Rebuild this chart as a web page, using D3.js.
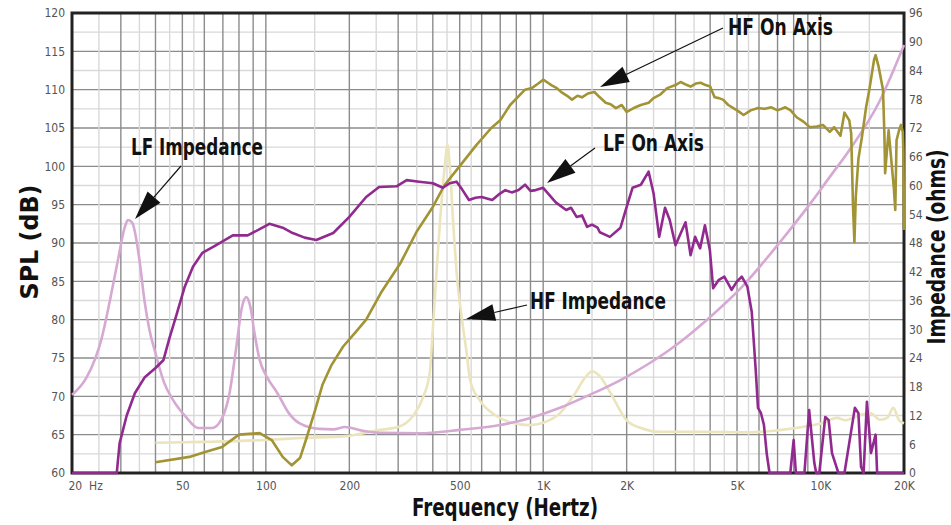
<!DOCTYPE html>
<html><head><meta charset="utf-8">
<script src="https://cdn.jsdelivr.net/npm/d3@7"></script>
<style>
html,body{margin:0;padding:0;background:#fff;}
svg text{font-family:"Liberation Sans Narrow","Arial Narrow","DejaVu Sans Condensed","Roboto Condensed",sans-serif;}
</style></head>
<body><svg id="c" width="951" height="525"></svg>
<script>
// ---- data ----
const splTicks = [60,65,70,75,80,85,90,95,100,105,110,115,120];
const ohmTicks = [0,6,12,18,24,30,36,42,48,54,60,66,72,78,84,90,96];
const freqTicks = [20,50,100,200,500,1000,2000,5000,10000,20000];
const freqTickLabels = ["20  Hz","50","100","200","500","1K","2K","5K","10K","20K"];

// LF On Axis, SPL dB [Hz, dB]
const lfOnAxis = [[20,60],[29,60],[29.7,63.9],[31.5,67.5],[33.7,70.4],[36.6,72.5],[40,73.7],[42.7,74.7],[45,77.7],[47.5,80.5],[51,84.3],[54.6,86.9],[59,88.7],[66,89.7],[76,91.0],[86,91.0],[95,91.8],[103,92.5],[115,92],[125,91.3],[138,90.7],[152,90.4],[175,91.3],[200,93.4],[230,96],[256,97.3],[296,97.4],[322,98.2],[357,98],[400,97.8],[435,97.2],[460,97.8],[487,98],[510,97],[540,95.6],[570,95.9],[600,96],[655,95.6],[690,96.3],[730,96.9],[770,96.6],[815,96.9],[860,97.6],[900,96.8],[940,96.9],[1000,97.2],[1110,95.3],[1210,94.3],[1260,94.6],[1320,93.4],[1380,93.6],[1440,92.1],[1500,92.4],[1570,92],[1600,91.4],[1740,90.8],[1900,92],[2000,94.7],[2100,97.2],[2250,97.6],[2400,99.3],[2500,96.5],[2620,90.8],[2750,94.6],[2860,93],[3000,89.7],[3260,92.7],[3400,88.4],[3530,90.8],[3680,89.3],[3830,92.3],[3990,89.1],[4100,84.1],[4300,85.2],[4500,85.6],[4780,83.9],[5000,85],[5200,85.6],[5450,84.3],[5650,81],[5750,77],[5850,73],[5950,68.5],[6100,67.8],[6250,66.3],[6400,62.5],[6550,60],[7780,60],[8000,64.3],[8150,60],[8750,60],[9100,68.2],[9500,61.3],[9650,60],[9900,60],[10400,67.3],[10700,66.9],[11000,62.6],[11300,61.3],[11600,60],[12200,60],[13300,68.5],[13700,67.8],[14000,60.8],[14300,60],[14700,69.3],[15200,62.6],[15400,63.4],[15800,65],[16000,60],[20000,60]];

// HF On Axis, SPL dB [Hz, dB]
const hfOnAxis = [[40,61.4],[53,62.1],[60,62.7],[69.5,63.4],[80,65],[95,65.2],[105,64.3],[115,62.1],[124,61],[133,62],[140,64.5],[150,68],[160,71.5],[172,74],[190,76.5],[210,78.3],[230,80],[260,83.5],[306,87.4],[350,91.5],[400,94.7],[440,97.5],[487,99.5],[575,102.8],[650,105],[700,106],[760,108],[860,110],[910,110.2],[960,110.8],[1000,111.3],[1040,110.9],[1070,110.6],[1120,110.2],[1170,109.6],[1220,109.2],[1270,108.7],[1330,109.2],[1380,109],[1450,109.5],[1530,109.7],[1600,109],[1680,108.3],[1750,108.1],[1830,107.6],[1920,108],[2000,107.1],[2120,107.6],[2250,108],[2400,108.3],[2500,108.9],[2650,109.4],[2800,110.2],[3000,110.6],[3130,111],[3300,110.6],[3400,110.4],[3550,110.8],[3700,110.9],[3850,110.6],[4000,110.4],[4150,109],[4300,108.9],[4450,108.7],[4650,108],[4850,107.6],[5050,107.2],[5280,106.7],[5600,107.3],[5950,107.6],[6300,107.5],[6650,107.7],[7000,107.3],[7470,107.7],[7800,107.3],[8200,106.4],[8700,105.8],[9150,105.1],[9700,105.2],[10200,105.4],[10800,104.5],[11200,105.1],[11800,104],[12200,107],[12700,106],[12900,104.3],[13100,94.7],[13250,90.1],[13400,96],[13700,101],[14100,103.8],[14600,107.7],[15000,110],[15600,113.9],[15800,114.5],[16200,113],[16800,110],[17000,104],[17100,99.1],[17600,104.7],[18000,100.8],[18400,97],[18600,94.3],[18800,103.4],[19200,104.7],[19500,105.4],[19800,104.5],[19900,102],[20000,91.7]];

// LF Impedance, ohms [Hz, ohms]
const lfImpedance = [[20,16.3],[22.5,19.8],[24.3,24],[25.5,27.8],[27.4,36],[29.3,44.5],[31,51.3],[31.8,52.8],[33,52.2],[35,44.5],[36.5,36],[38,30],[40,25],[43,18.8],[46.3,15.2],[51.5,11.7],[57,9.4],[64,9.4],[69,11.1],[74,16.7],[78,25.7],[82,34.6],[85,36.7],[88,34.6],[91,29.2],[95,23.6],[101,20],[110,16.7],[121,12.5],[132,10.4],[156,9.2],[175,9.1],[193,9.6],[220,8.9],[258,8.4],[357,8.3],[500,9],[700,10],[900,11.5],[1150,13.6],[1470,16.3],[1900,19.4],[2400,22.8],[2950,26.3],[3880,31.9],[5200,38.8],[7100,48],[9400,57],[10800,61.8],[12500,66.8],[16400,77.8],[20000,89.3]];

// HF Impedance, ohms [Hz, ohms]
const hfImpedance = [[40,6.3],[60,6.5],[100,6.9],[133,7.3],[193,7.7],[258,9],[300,9.6],[340,12],[370,16],[390,21],[400,30],[413,42.4],[425,52.8],[440,63],[452,68.5],[462,63],[473,52.8],[490,40.3],[510,31.9],[530,25],[545,19.4],[590,15.2],[670,12.1],[760,10.6],[890,10],[1000,10.5],[1150,12.5],[1300,16.5],[1420,20],[1500,21.2],[1600,20.2],[1740,16.9],[2000,11],[2250,9.4],[2650,8.6],[3700,8.6],[5600,8.5],[7000,8.9],[8600,9.6],[10100,10.4],[11500,11.5],[12300,11],[13300,11.7],[15100,12.5],[16400,11.1],[17400,11.5],[18300,13.6],[19200,11],[20000,10.4]];

// annotations
const labels = ["LF Impedance","HF On Axis","LF On Axis","HF Impedance"];

// ---- layout ----
const L=72, R=904, T=13, B=473;
const svg = d3.select("#c");
const x = d3.scaleLog().domain([20,20000]).range([L,R]);
const yL = d3.scaleLinear().domain([60,120]).range([B,T]);
const yR = d3.scaleLinear().domain([0,96]).range([B,T]);

// grid
const g = svg.append("g");
const hLines = d3.range(60,120.01,2.5);
g.selectAll("line.h").data(hLines).enter().append("line")
  .attr("x1",L).attr("x2",R).attr("y1",d=>yL(d)).attr("y2",d=>yL(d))
  .attr("stroke",d=>d%5===0?"#8c8c8c":"#d9d9d9").attr("stroke-width",1.4);
const vDark=[], vLight=[];
[10,100,1000,10000].forEach(dec=>{
  for(let k=1;k<=9;k++){const f=k*dec; if(f>=20&&f<=20000) vDark.push(f);}
  [1.5,2.5,3.5,4.5,5.5].forEach(k=>{const f=k*dec; if(f>20&&f<20000) vLight.push(f);});
});
vDark.push(20000);
g.selectAll("line.vl").data(vLight).enter().append("line")
  .attr("y1",T).attr("y2",B).attr("x1",d=>x(d)).attr("x2",d=>x(d))
  .attr("stroke","#d9d9d9").attr("stroke-width",1.4);
g.selectAll("line.vd").data(vDark).enter().append("line")
  .attr("y1",T).attr("y2",B).attr("x1",d=>x(d)).attr("x2",d=>x(d))
  .attr("stroke","#8c8c8c").attr("stroke-width",1.4);

// frame
svg.append("rect").attr("x",L).attr("y",T).attr("width",R-L).attr("height",B-T)
  .attr("fill","none").attr("stroke","#222").attr("stroke-width",3);

// curves
const lineL = d3.line().x(d=>x(d[0])).y(d=>yL(d[1]));
const lineR = d3.line().x(d=>x(d[0])).y(d=>yR(d[1])).curve(d3.curveMonotoneX);
svg.append("path").datum(hfImpedance).attr("d",lineR).attr("fill","none").attr("stroke","#ebe4bd").attr("stroke-width",2.6);
svg.append("path").datum(lfImpedance).attr("d",lineR).attr("fill","none").attr("stroke","#d6a9d3").attr("stroke-width",2.6);
svg.append("path").datum(hfOnAxis).attr("d",lineL).attr("fill","none").attr("stroke","#a29334").attr("stroke-width",2.6).attr("stroke-linejoin","round");
svg.append("path").datum(lfOnAxis).attr("d",lineL).attr("fill","none").attr("stroke","#912a8f").attr("stroke-width",2.6).attr("stroke-linejoin","round");

// axes
const axisL = d3.axisLeft(yL).tickValues(splTicks).tickSize(0).tickPadding(7);
const aL = svg.append("g").attr("transform",`translate(${L},0)`).call(axisL);
const axisR = d3.axisRight(yR).tickValues(ohmTicks).tickSize(0).tickPadding(5);
const aR = svg.append("g").attr("transform",`translate(${R},0)`).call(axisR);
const axisB = d3.axisBottom(x).tickValues(freqTicks).tickFormat((d,i)=>freqTickLabels[i]).tickSize(0).tickPadding(8);
const aB = svg.append("g").attr("transform",`translate(0,${B})`).call(axisB);
[aL,aR,aB].forEach(a=>{a.select(".domain").remove();
  a.selectAll("text").attr("font-size",12).attr("fill","#555").style("font-family",'"Liberation Sans Narrow","Arial Narrow","DejaVu Sans Condensed",sans-serif');});
aB.selectAll("text").filter((d,i)=>i===0).attr("text-anchor","start").attr("dx",-4).attr("xml:space","preserve");

// titles
const bold = t=>t.attr("font-weight","bold").attr("fill","#111").attr("lengthAdjust","spacingAndGlyphs");
bold(svg.append("text").attr("x",505).attr("y",516).attr("text-anchor","middle").attr("font-size",25).attr("textLength",186).text("Frequency (Hertz)"));
bold(svg.append("text").attr("transform","translate(38,242) rotate(-90)").attr("text-anchor","middle").attr("font-size",25).attr("textLength",115).text("SPL (dB)"));
bold(svg.append("text").attr("transform","translate(945,247) rotate(-90)").attr("text-anchor","middle").attr("font-size",25).attr("textLength",195).text("Impedance (ohms)"));

// annotations
const ann = [
  {t:labels[0], x:131, y:155, w:132, tip:[135,219], tail:[181,166]},
  {t:labels[1], x:728, y:35,  w:105, tip:[600,87],  tail:[723,28]},
  {t:labels[2], x:603, y:151, w:101, tip:[547,183], tail:[595,148]},
  {t:labels[3], x:530, y:309, w:136, tip:[466,319], tail:[527,305]}
];
ann.forEach(a=>{
  bold(svg.append("text").attr("x",a.x).attr("y",a.y).attr("font-size",23).attr("textLength",a.w).text(a.t));
  const dx=a.tail[0]-a.tip[0], dy=a.tail[1]-a.tip[1], len=Math.hypot(dx,dy);
  const ux=dx/len, uy=dy/len, hl=29, hw=8.5;
  const bx=a.tip[0]+ux*hl, by=a.tip[1]+uy*hl;
  svg.append("line").attr("x1",bx).attr("y1",by).attr("x2",a.tail[0]).attr("y2",a.tail[1]).attr("stroke","#111").attr("stroke-width",1.2);
  svg.append("path").attr("d",`M${a.tip[0]},${a.tip[1]}L${bx-uy*hw},${by+ux*hw}L${bx+uy*hw},${by-ux*hw}Z`).attr("fill","#111");
});
</script></body></html>
